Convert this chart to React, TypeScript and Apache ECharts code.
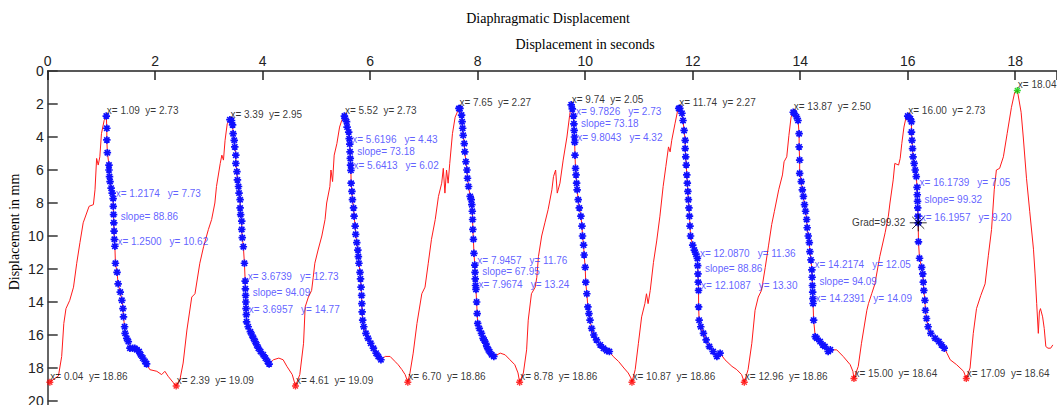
import React, { useEffect, useRef } from "react";
import * as echarts from "echarts";

type P = [number, number];

const chartTitle = "Diaphragmatic Displacement";
const xAxisTitle = "Displacement in seconds";
const yAxisTitle = "Displacement in mm";

const xMin = 0;
const xMax = 18.78;
const xStep = 2;
const yMin = 0;
const yMax = 20.3;
const yStep = 2;

// troughs (red stars) and peaks (top of each cycle)
const troughs: P[] = [
  [0.04, 18.86], [2.39, 19.09], [4.61, 19.09], [6.70, 18.86], [8.78, 18.86],
  [10.87, 18.86], [12.96, 18.86], [15.00, 18.64], [17.09, 18.64],
];
const peaks: P[] = [
  [1.09, 2.73], [3.39, 2.95], [5.52, 2.73], [7.65, 2.27], [9.74, 2.05],
  [11.74, 2.27], [13.87, 2.50], [16.00, 2.73], [18.04, 1.18],
];

// red rising parts (trough -> peak)
const rise0: P[] = [[0.20, 18.48], [0.26, 17.3], [0.30, 15.3], [0.34, 14.4], [0.41, 13.9], [0.48, 13.1], [0.54, 11.65], [0.60, 10.4], [0.66, 9.2], [0.77, 8.2], [0.85, 8.1], [0.88, 7.2], [0.91, 5.3], [0.94, 5.7], [0.97, 5.2], [1.00, 3.8], [1.05, 3.0]];
const rise1: P[] = [[2.46, 18.7], [2.52, 17.7], [2.59, 15.7], [2.68, 13.7], [2.74, 13.5], [2.83, 11.65], [2.90, 10.65], [2.99, 9.6], [3.05, 9.0], [3.11, 8.0], [3.14, 7.0], [3.21, 5.6], [3.24, 5.1], [3.27, 5.4], [3.30, 4.2], [3.34, 3.2]];
const rise2: P[] = [[4.69, 18.4], [4.76, 16.5], [4.79, 14.3], [4.85, 13.7], [4.91, 13.3], [4.94, 12.5], [4.97, 11.65], [5.03, 10.85], [5.10, 10.0], [5.16, 9.0], [5.19, 8.0], [5.25, 7.0], [5.27, 6.0], [5.30, 6.7], [5.33, 5.1], [5.38, 4.4], [5.43, 3.4], [5.47, 3.0]];
const rise3: P[] = [[6.74, 18.3], [6.80, 17.1], [6.87, 15.3], [6.96, 13.5], [7.02, 13.1], [7.08, 11.65], [7.14, 10.2], [7.21, 9.0], [7.27, 7.6], [7.33, 6.8], [7.36, 5.9], [7.39, 7.4], [7.42, 6.0], [7.45, 6.8], [7.48, 5.6], [7.53, 3.8], [7.58, 2.8]];
const rise4: P[] = [[8.85, 18.3], [8.91, 16.9], [8.94, 15.1], [9.00, 13.5], [9.07, 13.1], [9.10, 12.5], [9.13, 11.25], [9.19, 10.0], [9.25, 9.2], [9.31, 8.4], [9.38, 7.2], [9.41, 6.4], [9.45, 6.0], [9.48, 7.4], [9.53, 6.8], [9.59, 5.4], [9.66, 4.0], [9.71, 2.7]];
const rise5: P[] = [[10.93, 18.1], [10.99, 16.5], [11.05, 14.9], [11.11, 14.1], [11.14, 13.5], [11.17, 14.1], [11.21, 13.3], [11.27, 11.6], [11.33, 10.3], [11.39, 8.8], [11.45, 7.0], [11.50, 5.8], [11.55, 4.6], [11.58, 4.9], [11.61, 4.2], [11.67, 3.2], [11.72, 2.4]];
const rise6: P[] = [[13.03, 18.1], [13.10, 16.5], [13.16, 14.5], [13.22, 13.7], [13.28, 13.3], [13.35, 11.9], [13.41, 10.6], [13.47, 9.3], [13.52, 8.5], [13.60, 7.2], [13.67, 6.3], [13.70, 5.5], [13.75, 5.2], [13.79, 3.9], [13.83, 2.8]];
const rise7: P[] = [[15.08, 17.9], [15.14, 16.5], [15.24, 14.5], [15.27, 14.1], [15.33, 13.5], [15.39, 12.9], [15.48, 11.25], [15.58, 9.8], [15.64, 8.8], [15.67, 8.0], [15.73, 6.6], [15.76, 5.6], [15.83, 5.7], [15.86, 5.3], [15.89, 4.4], [15.93, 3.4], [15.97, 2.8]];
const rise8: P[] = [[17.16, 18.0], [17.22, 15.9], [17.28, 14.4], [17.36, 13.6], [17.44, 12.9], [17.50, 11.2], [17.56, 9.6], [17.61, 7.2], [17.65, 6.0], [17.71, 5.9], [17.78, 5.2], [17.85, 3.8], [17.93, 2.2], [17.99, 1.3]];

// blue starred descents (after each peak)
const desc0: P[] = [[1.10, 3.47], [1.10, 4.18], [1.11, 4.95], [1.14, 5.7], [1.14, 6.0], [1.15, 6.4], [1.16, 6.7], [1.18, 7.1], [1.20, 7.4], [1.2174, 7.73], [1.22, 8.2], [1.225, 8.7], [1.23, 9.2], [1.235, 9.7], [1.24, 10.2], [1.25, 10.62], [1.26, 11.65], [1.29, 12.2], [1.31, 12.9], [1.35, 13.4], [1.38, 13.9], [1.40, 14.4], [1.41, 14.9], [1.43, 15.5], [1.44, 15.9], [1.47, 16.2], [1.50, 16.4], [1.53, 16.8], [1.58, 16.8], [1.62, 16.8], [1.66, 16.9], [1.70, 17.0], [1.73, 17.2], [1.77, 17.4], [1.81, 17.6], [1.84, 17.75]];
const desc1: P[] = [[3.42, 3.0], [3.44, 3.27], [3.45, 3.8], [3.47, 4.2], [3.48, 4.6], [3.50, 5.1], [3.50, 5.6], [3.52, 6.1], [3.53, 6.6], [3.55, 7.0], [3.56, 7.4], [3.58, 7.8], [3.58, 8.3], [3.59, 8.7], [3.61, 9.1], [3.61, 9.6], [3.62, 10.1], [3.64, 10.65], [3.66, 11.65], [3.6739, 12.73], [3.678, 13.2], [3.682, 13.6], [3.686, 14.0], [3.69, 14.4], [3.6957, 14.77], [3.70, 15.2], [3.73, 15.5], [3.77, 15.8], [3.80, 16.0], [3.83, 16.2], [3.86, 16.4], [3.89, 16.6], [3.92, 16.8], [3.96, 17.0], [4.01, 17.2], [4.05, 17.4], [4.09, 17.6], [4.12, 17.76]];
const desc2: P[] = [[5.53, 2.87], [5.56, 3.07], [5.57, 3.4], [5.60, 3.7], [5.61, 4.1], [5.6196, 4.43], [5.625, 4.9], [5.63, 5.3], [5.635, 5.7], [5.6413, 6.02], [5.645, 6.8], [5.66, 7.3], [5.67, 7.8], [5.69, 8.3], [5.70, 8.8], [5.72, 9.4], [5.73, 9.9], [5.75, 10.4], [5.77, 10.85], [5.78, 11.25], [5.79, 11.65], [5.81, 12.2], [5.82, 12.6], [5.83, 13.1], [5.84, 13.6], [5.845, 14.1], [5.85, 14.6], [5.86, 15.1], [5.88, 15.5], [5.92, 15.9], [5.96, 16.2], [6.01, 16.5], [6.06, 16.8], [6.11, 17.1], [6.15, 17.3], [6.20, 17.5]];
const desc3: P[] = [[7.67, 2.27], [7.70, 2.67], [7.71, 3.07], [7.72, 3.47], [7.73, 3.9], [7.75, 4.4], [7.76, 4.9], [7.78, 5.5], [7.80, 6.0], [7.81, 6.5], [7.83, 7.0], [7.86, 7.6], [7.88, 7.8], [7.89, 8.1], [7.90, 8.5], [7.905, 9.0], [7.91, 9.6], [7.92, 10.2], [7.93, 11.05], [7.9457, 11.76], [7.95, 12.2], [7.955, 12.6], [7.96, 13.0], [7.9674, 13.24], [7.98, 14.0], [7.99, 14.7], [8.00, 15.3], [8.03, 15.6], [8.07, 15.9], [8.10, 16.2], [8.12, 16.3], [8.15, 16.5], [8.17, 16.7], [8.20, 16.9], [8.22, 17.0], [8.26, 17.2], [8.30, 17.3]];
const desc4: P[] = [[9.76, 2.3], [9.7826, 2.73], [9.79, 3.2], [9.795, 3.6], [9.80, 4.0], [9.8043, 4.32], [9.81, 5.1], [9.82, 5.9], [9.83, 6.3], [9.84, 6.8], [9.85, 7.2], [9.87, 7.8], [9.89, 8.3], [9.92, 8.8], [9.94, 9.4], [9.95, 10.0], [9.97, 10.55], [9.98, 11.15], [10.00, 11.9], [10.01, 12.8], [10.03, 13.5], [10.05, 14.3], [10.07, 14.7], [10.09, 15.1], [10.12, 15.6], [10.16, 16.0], [10.21, 16.3], [10.28, 16.6], [10.34, 16.8], [10.40, 16.95], [10.45, 17.0]];
const desc5: P[] = [[11.76, 2.26], [11.80, 2.56], [11.82, 3.0], [11.84, 3.6], [11.86, 4.2], [11.86, 4.7], [11.87, 5.2], [11.88, 5.7], [11.89, 6.3], [11.90, 6.8], [11.91, 7.3], [11.92, 7.8], [11.93, 8.3], [11.94, 8.8], [11.95, 9.4], [11.96, 10.0], [12.00, 10.55], [12.03, 10.85], [12.06, 11.1], [12.087, 11.36], [12.093, 11.8], [12.098, 12.3], [12.103, 12.8], [12.1087, 13.30], [12.11, 14.3], [12.12, 15.1], [12.15, 15.5], [12.20, 15.9], [12.25, 16.3], [12.31, 16.7], [12.38, 17.0], [12.45, 17.3], [12.51, 17.1]];
const desc6: P[] = [[13.89, 2.56], [13.93, 2.77], [13.96, 3.0], [13.98, 3.8], [13.98, 4.6], [13.99, 5.4], [13.99, 6.2], [14.02, 6.7], [14.04, 7.2], [14.06, 7.6], [14.08, 8.1], [14.10, 8.5], [14.12, 9.0], [14.13, 9.5], [14.15, 10.0], [14.17, 10.4], [14.18, 10.95], [14.20, 11.45], [14.2174, 12.05], [14.222, 12.5], [14.227, 13.0], [14.232, 13.4], [14.236, 13.8], [14.2391, 14.09], [14.25, 15.1], [14.28, 16.1], [14.31, 16.2], [14.37, 16.4], [14.42, 16.6], [14.46, 16.7], [14.52, 17.0], [14.56, 16.9]];
const desc7: P[] = [[16.02, 2.8], [16.05, 2.9], [16.07, 3.07], [16.07, 3.7], [16.08, 4.2], [16.09, 4.7], [16.10, 5.2], [16.12, 5.6], [16.14, 6.0], [16.16, 6.4], [16.1739, 7.05], [16.178, 7.5], [16.183, 7.9], [16.187, 8.3], [16.191, 8.8], [16.1957, 9.20], [16.20, 10.35], [16.22, 11.35], [16.26, 11.9], [16.28, 12.3], [16.29, 12.8], [16.30, 13.3], [16.32, 13.9], [16.33, 14.5], [16.35, 15.0], [16.38, 15.5], [16.43, 15.9], [16.51, 16.2], [16.58, 16.4], [16.63, 16.6], [16.68, 16.8]];

// red tails (end of blue stars -> next trough)
const tail0: P[] = [[1.90, 18.1], [2.03, 18.2], [2.12, 18.4], [2.18, 18.2], [2.24, 18.5], [2.34, 18.9]];
const tail1: P[] = [[4.20, 17.5], [4.30, 17.4], [4.38, 17.5], [4.45, 17.9], [4.55, 18.4]];
const tail2: P[] = [[6.28, 17.3], [6.37, 17.3], [6.46, 17.6], [6.52, 17.8], [6.59, 18.1], [6.65, 18.4]];
const tail3: P[] = [[8.42, 17.1], [8.51, 17.2], [8.60, 17.5], [8.69, 17.8], [8.75, 18.3]];
const tail4: P[] = [[10.52, 17.3], [10.62, 17.6], [10.72, 18.0], [10.80, 18.3], [10.85, 18.6]];
const tail5: P[] = [[12.60, 17.5], [12.73, 17.9], [12.82, 18.1], [12.91, 18.4]];
const tail6: P[] = [[14.68, 16.9], [14.80, 17.3], [14.93, 17.8], [14.98, 18.2]];
const tail7: P[] = [[16.73, 17.1], [16.79, 17.5], [16.91, 17.8], [17.04, 18.2]];
const tail8: P[] = [[18.11, 2.5], [18.15, 4.0], [18.21, 6.5], [18.27, 8.5], [18.34, 10.8], [18.37, 12.3], [18.40, 14.1], [18.43, 15.9], [18.45, 14.6], [18.47, 14.4], [18.51, 14.9], [18.54, 15.6], [18.57, 16.7], [18.61, 16.8], [18.66, 16.8], [18.70, 16.6]];

const rises: P[][] = [rise0, rise1, rise2, rise3, rise4, rise5, rise6, rise7, rise8];
const descents: P[][] = [desc0, desc1, desc2, desc3, desc4, desc5, desc6, desc7];
const tails: P[][] = [tail0, tail1, tail2, tail3, tail4, tail5, tail6, tail7, tail8];

// measured slope segments: x1, y1, x2, y2, slope
const slopes: [number, number, number, number, number][] = [
  [1.2174, 7.73, 1.2500, 10.62, 88.86],
  [3.6739, 12.73, 3.6957, 14.77, 94.09],
  [5.6196, 4.43, 5.6413, 6.02, 73.18],
  [7.9457, 11.76, 7.9674, 13.24, 67.95],
  [9.7826, 2.73, 9.8043, 4.32, 73.18],
  [12.0870, 11.36, 12.1087, 13.30, 88.86],
  [14.2174, 12.05, 14.2391, 14.09, 94.09],
  [16.1739, 7.05, 16.1957, 9.20, 99.32],
];
const gradIndex = 7;

const STAR = "path://M5,0L5,10M0,5L10,5M1.46,1.46L8.54,8.54M1.46,8.54L8.54,1.46";
const SANS = "'Liberation Sans', Arial, sans-serif";
const SERIF = "'Liberation Serif', 'Times New Roman', serif";
const BLUE_TXT = "#3838ff";

function buildOption() {
  const redTrace: P[] = [];
  for (let i = 0; i < troughs.length; i++) {
    redTrace.push(troughs[i], ...rises[i], peaks[i], ...(descents[i] || []), ...tails[i]);
  }
  const blueStars: P[] = [];
  for (let i = 0; i < descents.length; i++) blueStars.push(peaks[i], ...descents[i]);

  const slopePts: number[][] = [];
  const slopeMid: number[][] = [];
  slopes.forEach((s) => {
    slopePts.push([s[0], s[1]], [s[2], s[3]]);
    slopeMid.push([s[0], (s[1] + s[3]) / 2, s[4]]);
  });
  const g = slopes[gradIndex];
  const gradPoint = [g[2], g[3], g[4]];

  const txt = (color: string) => ({ fontSize: 10, fontFamily: SANS, color });
  const pairLabel = (color: string, dec: number, gap: number, offset: number[]) => ({
    show: true,
    position: "right",
    distance: 0,
    offset,
    formatter: (p: any) =>
      `{a|x= ${p.value[0].toFixed(dec)}}{b|y= ${p.value[1].toFixed(2)}}`,
    rich: {
      a: { ...txt(color), padding: [0, gap, 0, 0] },
      b: { ...txt(color) },
    },
  });
  const labelOnly = (data: any[], label: any) => ({
    type: "scatter",
    data,
    symbolSize: 1,
    silent: true,
    z: 6,
    itemStyle: { color: "rgba(0,0,0,0)" },
    label,
  });

  return {
    animation: false,
    backgroundColor: "#ffffff",
    grid: {
      left: 47.7, top: 71, width: 53.75 * xMax, height: 16.5 * yMax,
      containLabel: false, outerBoundsMode: "none",
    },
    graphic: [
      { type: "text", x: 548, y: 18, style: { text: chartTitle, fontSize: 14, fontFamily: SERIF, fill: "#000", align: "center", verticalAlign: "middle", textAlign: "center", textVerticalAlign: "middle" } },
      { type: "text", x: 585, y: 44, style: { text: xAxisTitle, fontSize: 14, fontFamily: SERIF, fill: "#000", align: "center", verticalAlign: "middle", textAlign: "center", textVerticalAlign: "middle" } },
      { type: "text", x: 14, y: 232, rotation: Math.PI / 2, style: { text: yAxisTitle, fontSize: 14, fontFamily: SERIF, fill: "#000", align: "center", verticalAlign: "middle", textAlign: "center", textVerticalAlign: "middle" } },
    ],
    xAxis: {
      type: "value",
      position: "top",
      min: xMin,
      max: xMax,
      interval: xStep,
      axisLine: { show: true, onZero: false, lineStyle: { color: "#222", width: 1.5 } },
      axisTick: { show: true, inside: true, length: 9, lineStyle: { color: "#222", width: 1.5 } },
      axisLabel: {
        show: true, margin: 3, fontSize: 14, fontFamily: SANS, color: "#222",
        formatter: (v: number) => (Math.abs(v / xStep - Math.round(v / xStep)) < 1e-6 ? String(v) : ""),
      },
      splitLine: { show: false },
    },
    yAxis: {
      type: "value",
      inverse: true,
      min: yMin,
      max: yMax,
      interval: yStep,
      axisLine: { show: true, onZero: false, lineStyle: { color: "#333", width: 1.5 } },
      axisTick: { show: true, inside: true, length: 10, lineStyle: { color: "#333", width: 1.5 } },
      axisLabel: {
        show: true, margin: 4, fontSize: 14, fontFamily: SANS, color: "#222",
        formatter: (v: number) => (Math.abs(v / yStep - Math.round(v / yStep)) < 1e-6 ? String(v) : ""),
      },
      splitLine: { show: false },
    },
    series: [
      {
        type: "line",
        data: redTrace,
        symbol: "none",
        lineStyle: { color: "#ff1a1a", width: 1 },
        z: 2,
        silent: true,
      },
      {
        type: "scatter",
        data: blueStars,
        symbol: STAR,
        symbolSize: 7.5,
        itemStyle: { color: "rgba(0,0,0,0)", borderColor: "#1010ff", borderWidth: 1.7, opacity: 1 },
        z: 3,
        silent: true,
      },
      {
        type: "scatter",
        data: troughs,
        symbol: STAR,
        symbolSize: 7,
        itemStyle: { color: "rgba(0,0,0,0)", borderColor: "#ff0000", borderWidth: 1.4 },
        z: 3,
        silent: true,
      },
      {
        type: "scatter",
        data: [peaks[peaks.length - 1]],
        symbol: STAR,
        symbolSize: 7,
        itemStyle: { color: "rgba(0,0,0,0)", borderColor: "#00d000", borderWidth: 1.4 },
        z: 3,
        silent: true,
      },
      {
        type: "scatter",
        data: [gradPoint],
        symbol: STAR,
        symbolSize: 17,
        itemStyle: { color: "rgba(0,0,0,0)", borderColor: "#000000", borderWidth: 1 },
        z: 4,
        silent: true,
        label: {
          show: true, position: "left", distance: 4,
          formatter: (p: any) => `Grad=${p.value[2].toFixed(2)}`,
          ...txt("#000"),
        },
      },
      labelOnly(peaks, pairLabel("#000", 2, 5.5, [0, -5.5])),
      labelOnly(troughs, pairLabel("#000", 2, 5.5, [0, -5.5])),
      labelOnly(slopePts, pairLabel(BLUE_TXT, 4, 8, [2, -5])),
      labelOnly(slopeMid, {
        show: true, position: "right", distance: 0, offset: [7, -5.5],
        formatter: (p: any) => `slope= ${p.value[2].toFixed(2)}`,
        ...txt(BLUE_TXT),
      }),
    ],
  };
}

export default function App() {
  const ref = useRef<HTMLDivElement>(null);
  useEffect(() => {
    document.body.style.margin = "0";
    if (!ref.current) return;
    const chart = echarts.init(ref.current, undefined, { renderer: "svg" });
    chart.setOption(buildOption() as any);
    return () => chart.dispose();
  }, []);
  return <div ref={ref} style={{ width: 1057, height: 405, background: "#fff" }} />;
}
